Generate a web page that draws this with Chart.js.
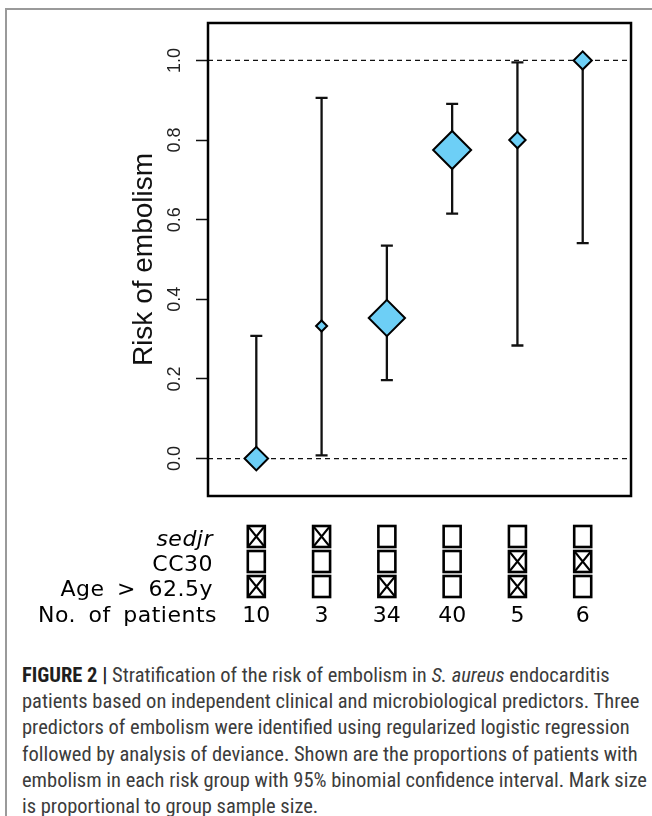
<!DOCTYPE html>
<html>
<head>
<meta charset="utf-8">
<script src="https://cdn.jsdelivr.net/npm/chart.js@4"></script>
<style>
  html, body { margin: 0; padding: 0; background: #fff; }
  body { width: 652px; height: 816px; position: relative; overflow: hidden; }
  #frame { position: absolute; left: 5px; top: 8px; width: 660px; height: 820px;
           border-top: 2px solid #9a9a9a; border-left: 2px solid #9a9a9a; }
  #wrap { position: absolute; left: 0; top: 0; width: 652px; height: 640px; }
  #caption { position: absolute; left: 22px; top: 662px; width: 720px;
             font-family: "Liberation Sans Narrow", "Roboto Condensed", Roboto, sans-serif; font-size: 20px;
             color: #3c3c3c; line-height: 26.2px; white-space: nowrap;
             transform-origin: 0 0; }
  #caption b { color: #1e1e1e; }
</style>
</head>
<body>
<div id="frame"></div>
<div id="wrap"><canvas id="chart"></canvas></div>
<div id="caption">
  <div><b>FIGURE 2 |</b> Stratification of the risk of embolism in <i>S. aureus</i> endocarditis</div>
  <div>patients based on independent clinical and microbiological predictors. Three</div>
  <div>predictors of embolism were identified using regularized logistic regression</div>
  <div>followed by analysis of deviance. Shown are the proportions of patients with</div>
  <div>embolism in each risk group with 95% binomial confidence interval. Mark size</div>
  <div>is proportional to group sample size.</div>
</div>
<script>
// risk groups, left to right
var groupPos = [1, 2, 3, 4, 5, 6];
var risk = [0, 0.333, 0.353, 0.775, 0.8, 1.0];
var ciLow = [0, 0.008, 0.197, 0.615, 0.284, 0.541];
var ciHigh = [0.308, 0.906, 0.535, 0.891, 0.995, 1.0];
var patients = [10, 3, 34, 40, 5, 6];

// predictor table under the plot (1 = checked box)
var rowLabels = ["sedjr", "CC30", "Age > 62.5y", "No. of patients"];
var sedjr = [1, 1, 0, 0, 0, 0];
var cc30 = [0, 0, 0, 0, 1, 1];
var ageOld = [1, 0, 1, 0, 1, 0];

var yTicks = [0, 0.2, 0.4, 0.6, 0.8, 1.0];
var refLines = [0, 1];

var plotFont = '"Liberation Sans", Arial, sans-serif';
var tableFont = '"DejaVu Sans", Verdana, sans-serif';

// mark size grows with group size
function markRadius(n) {
  return 5.2 * Math.log(n) - 0.2;
}

// squeeze the caption if the narrow face is missing
(function() {
  var c = document.createElement("canvas").getContext("2d");
  var s = "patients based on independent clinical and microbiological predictors. Three";
  c.font = '20px "Liberation Sans Narrow", "Roboto Condensed", Roboto, sans-serif';
  var w = c.measureText(s).width;
  var cap = document.getElementById("caption");
  cap.style.transform = "scaleX(" + (618 / w).toFixed(3) + ")";
})();

var overlay = {
  id: "overlay",
  beforeDatasetsDraw: function(chart) {
    var ctx = chart.ctx, a = chart.chartArea, x = chart.scales.x, y = chart.scales.y;
    ctx.save();
    ctx.strokeStyle = "#111";
    ctx.lineWidth = 1.3;
    ctx.setLineDash([5, 4]);
    refLines.forEach(function(v) {
      var py = y.getPixelForValue(v);
      ctx.beginPath();
      ctx.moveTo(a.left, py);
      ctx.lineTo(a.right, py);
      ctx.stroke();
    });
    ctx.setLineDash([]);
    ctx.lineWidth = 2.3;
    groupPos.forEach(function(g, i) {
      var px = x.getPixelForValue(g);
      var lo = y.getPixelForValue(ciLow[i]);
      var hi = y.getPixelForValue(ciHigh[i]);
      ctx.beginPath();
      ctx.moveTo(px, lo);
      ctx.lineTo(px, hi);
      ctx.moveTo(px - 6, lo);
      ctx.lineTo(px + 6, lo);
      ctx.moveTo(px - 6, hi);
      ctx.lineTo(px + 6, hi);
      ctx.stroke();
    });
    ctx.restore();
  },
  afterDraw: function(chart) {
    var ctx = chart.ctx, a = chart.chartArea, x = chart.scales.x;
    ctx.save();
    ctx.strokeStyle = "#000";
    ctx.lineWidth = 2.5;
    ctx.strokeRect(a.left, a.top, a.right - a.left, a.bottom - a.top);

    // predictor rows
    var baselines = [546, 571, 596, 622];
    var flags = [sedjr, cc30, ageOld];
    ctx.fillStyle = "#000";
    ctx.textBaseline = "alphabetic";
    ctx.wordSpacing = "5px";
    ctx.letterSpacing = "0.5px";
    rowLabels.forEach(function(lbl, r) {
      ctx.font = (r === 0 ? "italic " : "") + "22px " + tableFont;
      ctx.textAlign = "right";
      ctx.fillText(lbl, r === 3 ? 217 : 213, baselines[r]);
    });
    ctx.wordSpacing = "0px";
    ctx.letterSpacing = "0px";
    flags.forEach(function(row, r) {
      row.forEach(function(on, i) {
        var cx = x.getPixelForValue(groupPos[i]);
        var w = 17, h = 21;
        var bx = cx - w / 2, by = baselines[r] + 1 - h;
        ctx.lineWidth = 2.6;
        ctx.strokeRect(bx, by, w, h);
        if (on) {
          ctx.lineWidth = 2;
          ctx.beginPath();
          ctx.moveTo(bx, by);
          ctx.lineTo(bx + w, by + h);
          ctx.moveTo(bx + w, by);
          ctx.lineTo(bx, by + h);
          ctx.stroke();
        }
      });
    });
    ctx.font = "22px " + tableFont;
    ctx.textAlign = "center";
    patients.forEach(function(n, i) {
      ctx.fillText(String(n), x.getPixelForValue(groupPos[i]), baselines[3]);
    });
    ctx.restore();
  }
};

new Chart(document.getElementById("chart"), {
  type: "scatter",
  data: {
    datasets: [{
      data: risk.map(function(v, i) { return {x: groupPos[i], y: v}; }),
      pointStyle: "rectRot",
      pointRadius: patients.map(markRadius),
      pointHoverRadius: patients.map(markRadius),
      backgroundColor: "#6dcff6",
      borderColor: "#000",
      borderWidth: 2
    }]
  },
  options: {
    responsive: true,
    maintainAspectRatio: false,
    animation: false,
    layout: { padding: { left: 0, top: 23, right: 16, bottom: 144 } },
    plugins: { legend: { display: false }, tooltip: { enabled: false } },
    scales: {
      x: { type: "linear", min: 0.26, max: 6.74, display: false },
      y: {
        min: -0.094,
        max: 1.094,
        afterBuildTicks: function(s) {
          s.ticks = yTicks.map(function(v) { return {value: v}; });
        },
        afterFit: function(s) { s.width = 208; },
        border: { display: false },
        grid: { drawOnChartArea: false, drawTicks: true, tickLength: 12, color: "#111", tickWidth: 1.5 },
        ticks: {
          minRotation: 90, maxRotation: 90, crossAlign: "center", padding: 8,
          color: "#222", font: { family: plotFont, size: 18 },
          callback: function(v) { return Number(v).toFixed(1); }
        },
        title: {
          display: true, text: "Risk of embolism", color: "#111",
          font: { family: plotFont, size: 28 }, padding: { top: 127, bottom: 0 }
        }
      }
    }
  },
  plugins: [overlay]
});
</script>
</body>
</html>
